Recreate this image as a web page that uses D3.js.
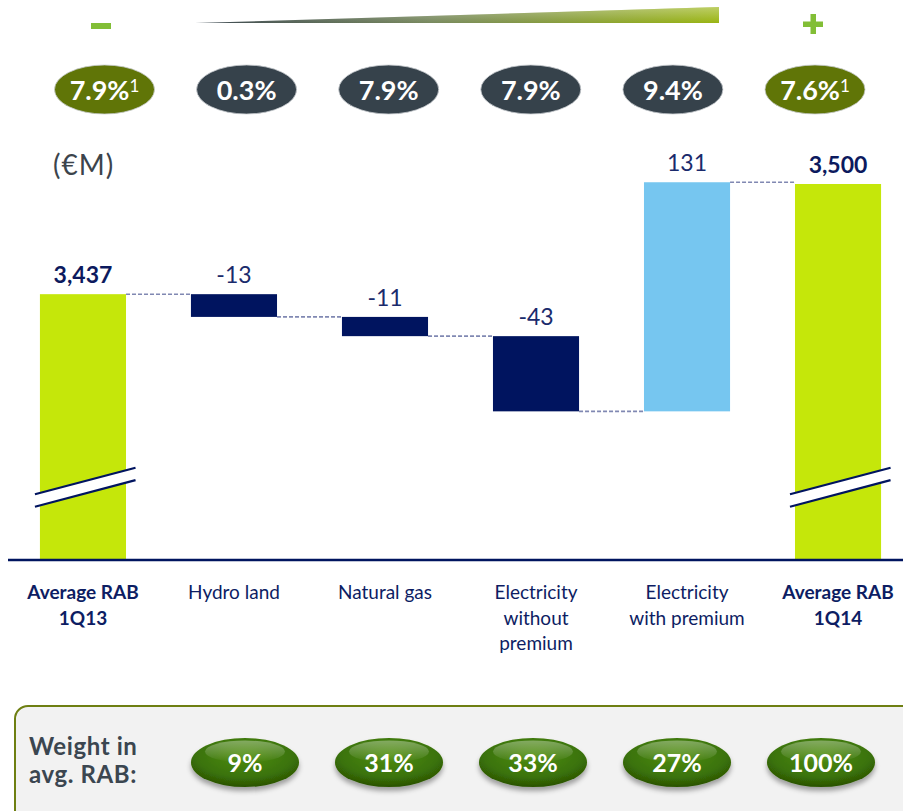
<!DOCTYPE html>
<html>
<head>
<meta charset="utf-8">
<script src="https://cdn.jsdelivr.net/npm/d3@7"></script>
<style>
  body { margin: 0; background: #fff; }
  svg { display: block; font-family: Lato, "Open Sans", sans-serif; }
</style>
</head>
<body>
<div id="chart"></div>
<script>
// chart values
var categories = ["Average RAB 1Q13", "Hydro land", "Natural gas", "Electricity without premium", "Electricity with premium", "Average RAB 1Q14"];
var categoryLines = [["Average RAB", "1Q13"], ["Hydro land"], ["Natural gas"], ["Electricity", "without", "premium"], ["Electricity", "with premium"], ["Average RAB", "1Q14"]];
var values = [3437, -13, -11, -43, 131, 3500];
var kinds = ["total", "delta", "delta", "delta", "delta", "total"];
var returnRates = ["7.9%", "0.3%", "7.9%", "7.9%", "9.4%", "7.6%"];
var rateNotes = ["1", "", "", "", "", "1"];
var weights = ["9%", "31%", "33%", "27%", "100%"];

var width = 903, height = 811,
    baseY = 560;

var navy = "#00145f", lime = "#c5e70a", sky = "#76c6f0";

var svg = d3.select("#chart").append("svg")
    .attr("width", width)
    .attr("height", height);

var defs = svg.append("defs");

// gradients
var wedgeGrad = defs.append("linearGradient").attr("id", "wedge");
wedgeGrad.append("stop").attr("offset", "0%").attr("stop-color", "#3a4650");
wedgeGrad.append("stop").attr("offset", "45%").attr("stop-color", "#78895e");
wedgeGrad.append("stop").attr("offset", "100%").attr("stop-color", "#9ab512");
var wedgeShine = defs.append("linearGradient").attr("id", "wedgeShine")
    .attr("x1", 0).attr("y1", 0).attr("x2", 0).attr("y2", 1);
wedgeShine.append("stop").attr("offset", "0%").attr("stop-color", "#fff").attr("stop-opacity", 0.35);
wedgeShine.append("stop").attr("offset", "100%").attr("stop-color", "#fff").attr("stop-opacity", 0);

var pillGrad = defs.append("radialGradient").attr("id", "pill")
    .attr("cx", "50%").attr("cy", "35%").attr("r", "65%");
pillGrad.append("stop").attr("offset", "0%").attr("stop-color", "#4f8e12");
pillGrad.append("stop").attr("offset", "70%").attr("stop-color", "#3a7208");
pillGrad.append("stop").attr("offset", "100%").attr("stop-color", "#2a5204");
var pillShine = defs.append("linearGradient").attr("id", "pillShine")
    .attr("x1", 0).attr("y1", 0).attr("x2", 0).attr("y2", 1);
pillShine.append("stop").attr("offset", "0%").attr("stop-color", "#fff").attr("stop-opacity", 0.35);
pillShine.append("stop").attr("offset", "100%").attr("stop-color", "#fff").attr("stop-opacity", 0);

var shadow = defs.append("filter").attr("id", "shadow")
    .attr("x", "-20%").attr("y", "-20%").attr("width", "140%").attr("height", "160%");
shadow.append("feDropShadow").attr("dx", 0).attr("dy", 4).attr("stdDeviation", 2.5)
    .attr("flood-color", "#000").attr("flood-opacity", 0.35);

// running totals for the waterfall
var bars = [], running = 0;
values.forEach(function(v, i) {
  if (kinds[i] == "total") {
    bars.push({ cat: categories[i], start: null, end: v, value: v, kind: "total" });
    running = v;
  } else {
    bars.push({ cat: categories[i], start: running, end: running + v, value: v, kind: "delta" });
    running += v;
  }
});

// scales
var x = d3.scaleBand()
    .domain(categories)
    .range([-25, 946])
    .padding(0.43);

var y = d3.scaleLinear()
    .domain([3285, 3500])
    .range([baseY, 184]);

var yMin = y.domain()[0];

// top gradient wedge and +/- signs
svg.append("polygon")
    .attr("points", "195,23 719,7 719,23")
    .attr("fill", "url(#wedge)");
svg.append("polygon")
    .attr("points", "195,23 719,7 719,23")
    .attr("fill", "url(#wedgeShine)");
svg.append("rect").attr("x", 91).attr("y", 23).attr("width", 20).attr("height", 6).attr("fill", "#82be36");
svg.append("rect").attr("x", 803).attr("y", 21.5).attr("width", 20).attr("height", 5.5).attr("fill", "#82be36");
svg.append("rect").attr("x", 810.5).attr("y", 14).attr("width", 5.5).attr("height", 20).attr("fill", "#82be36");

// return rate pills
var px = d3.scalePoint().domain(categories).range([104.5, 815]);
var rate = svg.append("g").selectAll("g")
    .data(returnRates)
  .enter().append("g")
    .attr("transform", function(d, i) { return "translate(" + px(categories[i]) + ",89.5)"; });
rate.append("ellipse")
    .attr("rx", 50).attr("ry", 24.5)
    .attr("fill", function(d, i) { return kinds[i] == "total" ? "#607507" : "#36424b"; })
    .attr("stroke", "#c9cdd0").attr("stroke-width", 0.8);
var rateText = rate.append("text")
    .attr("y", 10.5)
    .attr("text-anchor", "middle")
    .attr("fill", "#fff")
    .attr("font-weight", "bold")
    .attr("font-size", 27);
rateText.append("tspan").text(function(d) { return d; });
rateText.append("tspan")
    .attr("font-size", 17)
    .attr("font-weight", "normal")
    .attr("dy", -8)
    .text(function(d, i) { return rateNotes[i]; });

// unit label
svg.append("text")
    .attr("x", 53).attr("y", 175)
    .attr("font-size", 28)
    .attr("letter-spacing", 1)
    .attr("fill", "#3c444c")
    .text("(€M)");

// connectors
var links = bars.slice(0, -1).map(function(b, i) {
  return { x1: x(b.cat) + x.bandwidth(), x2: x(bars[i + 1].cat), level: b.end };
});
svg.append("g").selectAll("line")
    .data(links)
  .enter().append("line")
    .attr("x1", function(d) { return d.x1; })
    .attr("x2", function(d) { return d.x2; })
    .attr("y1", function(d) { return y(d.level); })
    .attr("y2", function(d) { return y(d.level); })
    .attr("stroke", "#8088b2")
    .attr("stroke-width", 1.6)
    .attr("stroke-dasharray", "4,2");

// bars
svg.append("g").selectAll("rect")
    .data(bars)
  .enter().append("rect")
    .attr("x", function(d) { return x(d.cat); })
    .attr("width", x.bandwidth())
    .attr("y", function(d) { return d.kind == "total" ? y(d.end) : y(Math.max(d.start, d.end)); })
    .attr("height", function(d) {
      return d.kind == "total" ? y(yMin) - y(d.end) : Math.abs(y(d.start) - y(d.end));
    })
    .attr("fill", function(d) {
      if (d.kind == "total") return lime;
      return d.value < 0 ? navy : sky;
    });

// value labels
svg.append("g").selectAll("text")
    .data(bars)
  .enter().append("text")
    .attr("x", function(d) { return x(d.cat) + x.bandwidth() / 2; })
    .attr("y", function(d) {
      var top = d.kind == "total" ? d.end : Math.max(d.start, d.end);
      return y(top) - 11;
    })
    .attr("text-anchor", "middle")
    .attr("font-size", 23)
    .attr("font-weight", function(d) { return d.kind == "total" ? "bold" : "normal"; })
    .attr("fill", function(d) { return d.kind == "total" ? "#0c1a5e" : "#1a2a6c"; })
    .text(function(d) { return d.kind == "total" ? d3.format(",")(d.value) : String(d.value); });

// axis break marks on the total bars
var breaks = svg.append("g").selectAll("g")
    .data(bars.filter(function(d) { return d.kind == "total"; }))
  .enter().append("g");
breaks.append("polygon")
    .attr("points", function(d) {
      var l = x(d.cat) - 5, r = x(d.cat) + x.bandwidth() + 9.5;
      return [[l, baseY - 65.7], [r, baseY - 92.3], [r, baseY - 80], [l, baseY - 53.3]].join(" ");
    })
    .attr("fill", "#fff");
[65.7, 53.3].forEach(function(off) {
  breaks.append("line")
      .attr("x1", function(d) { return x(d.cat) - 5; })
      .attr("x2", function(d) { return x(d.cat) + x.bandwidth() + 9.5; })
      .attr("y1", baseY - off)
      .attr("y2", baseY - off - 26.6)
      .attr("stroke", navy)
      .attr("stroke-width", 2.2);
});

// category axis
var axis = svg.append("g")
    .attr("transform", "translate(0," + baseY + ")")
    .call(d3.axisBottom(x).tickSize(0));
axis.select(".domain").remove();
axis.append("line")
    .attr("x1", 8).attr("x2", width)
    .attr("stroke", navy)
    .attr("stroke-width", 2.5);
axis.selectAll(".tick text").each(function(d, i) {
  var t = d3.select(this)
      .attr("y", 39).attr("dy", null)
      .attr("font-family", "Lato, sans-serif")
      .attr("font-size", 19)
      .attr("fill", "#0d1d63")
      .attr("font-weight", kinds[i] == "total" ? "bold" : "normal")
      .text(null);
  categoryLines[i].forEach(function(line, j) {
    t.append("tspan").attr("x", 0).attr("dy", j ? 25.5 : 0).text(line);
  });
});

// weight panel
svg.append("rect")
    .attr("x", 15).attr("y", 706)
    .attr("width", 920).attr("height", 140)
    .attr("rx", 13)
    .attr("fill", "#f2f2f2")
    .attr("stroke", "#6e7f12")
    .attr("stroke-width", 2);
var wl = svg.append("text")
    .attr("x", 29).attr("y", 755)
    .attr("font-size", 24)
    .attr("letter-spacing", 0.6)
    .attr("font-weight", "bold")
    .attr("fill", "#3b4650");
wl.append("tspan").attr("x", 29).text("Weight in");
wl.append("tspan").attr("x", 29).attr("dy", 28).text("avg. RAB:");

var wx = d3.scalePoint().domain(weights.map(function(d, i) { return i; })).range([245, 821]);
var wp = svg.append("g").selectAll("g")
    .data(weights)
  .enter().append("g")
    .attr("transform", function(d, i) { return "translate(" + wx(i) + ",762.5)"; });
wp.append("ellipse")
    .attr("rx", 54).attr("ry", 24.5)
    .attr("fill", "url(#pill)")
    .attr("filter", "url(#shadow)");
wp.append("ellipse")
    .attr("cy", -11).attr("rx", 40).attr("ry", 11)
    .attr("fill", "url(#pillShine)");
wp.append("text")
    .attr("y", 9)
    .attr("text-anchor", "middle")
    .attr("fill", "#fff")
    .attr("font-weight", "bold")
    .attr("font-size", 25)
    .text(function(d) { return d; });
</script>
</body>
</html>
